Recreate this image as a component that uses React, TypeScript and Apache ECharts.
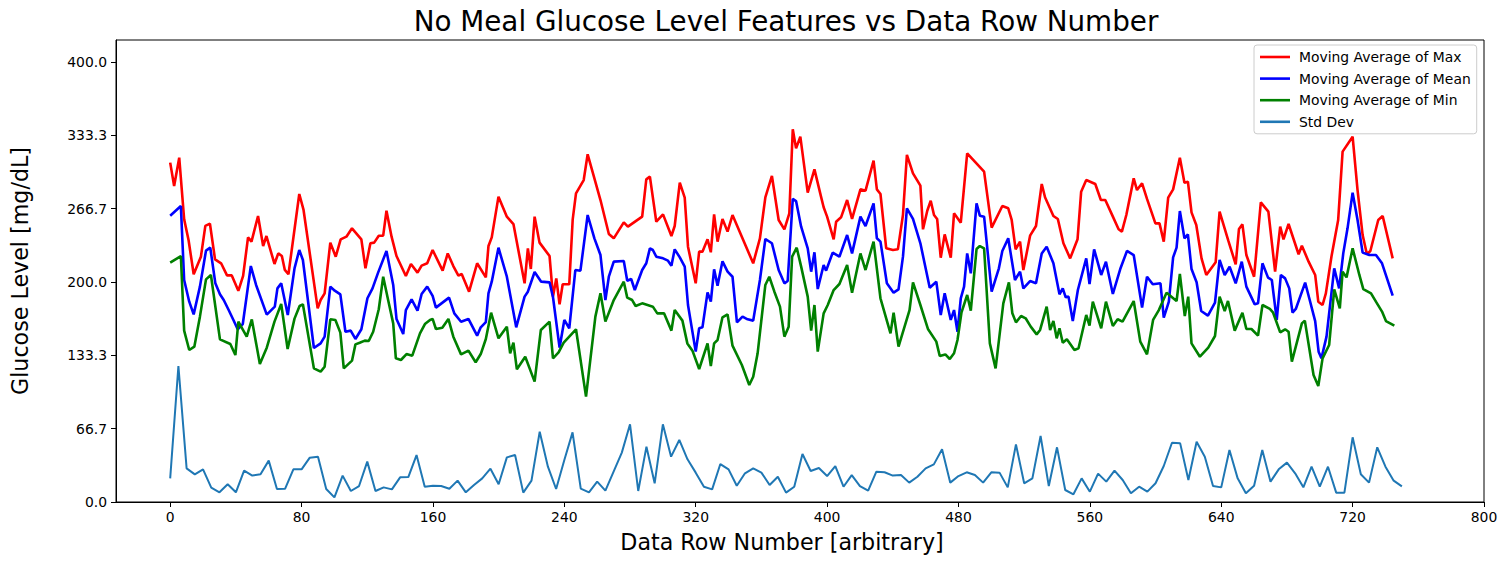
import React, { useEffect, useRef } from "react";
import * as echarts from "echarts";

const titleText = "No Meal Glucose Level Features vs Data Row Number";
const xAxisName = "Data Row Number [arbitrary]";
const yAxisName = "Glucose Level [mg/dL]";
const xTickValues = [0, 80, 160, 240, 320, 400, 480, 560, 640, 720, 800];
const yTickValues = [0, 66.667, 133.333, 200, 266.667, 333.333, 400];
const seriesNames = ["Moving Average of Max", "Moving Average of Mean", "Moving Average of Min", "Std Dev"];
const seriesColors = ["#ff0000", "#0000ff", "#008000", "#1f77b4"];

const maxPoints: [number, number][] = [
  [0, 308.5], [2.4, 287.3], [5.5, 313], [8.5, 257], [11.2, 238], [14.3, 207], [18.7, 223], [21.4, 251], [24.2, 253], [27.3, 220.6],
  [31, 217], [34.6, 206], [37.5, 206], [41.5, 192], [44.4, 205.5], [47.4, 240.6], [49.5, 236.7], [53.5, 260], [56.6, 232.7], [58.6, 241.8],
  [63.5, 216.4], [65.8, 226], [68, 223.6], [69.8, 211], [72, 207], [78.6, 280], [81.2, 265.5], [89.8, 176], [91.6, 183.6],
  [94.05, 189.7], [97.5, 235.8], [100.8, 223], [103.8, 238.8], [107.3, 241.2], [110.7, 248.8], [116.4, 238.8], [118.9, 212.4], [121.9, 235.2],
  [124.2, 235.8], [127, 242.1], [129.7, 242.1], [131.7, 264.8], [134.8, 241.2], [137.8, 223.6], [143.5, 205.5], [146.6, 216.4], [150.6, 208.5],
  [153.1, 214.85], [156.5, 217], [159.8, 229.1], [165.9, 210.3], [169, 226], [172.4, 214.5], [175.5, 205.8], [177.5, 207.3], [182, 191.2],
  [186.9, 217], [192.2, 204.2], [193.8, 232.7], [195.8, 240.6],
  [199.9, 277.6], [205, 259.4], [209, 252.7], [215.8, 198.8], [217.8, 230.6], [219.6, 211.8], [221.9, 259.4], [224.9, 235.8], [231, 223.6],
  [233.1, 186.7], [235.1, 203.3], [237.1, 179.7], [239, 197.9], [243, 197.9], [245.1, 257], [247.1, 280.6], [251.8, 292.7], [254.2, 316.1],
  [258.3, 294.2], [262, 274.5], [267.1, 243.6], [270.1, 239.7], [276.2, 254.2], [278.7, 250.3], [287.4, 259.4], [289.9, 293.3], [292.1, 295.8], [296, 254.8],
  [300.1, 261.5], [305.2, 241.8], [307.2, 250.9], [310.3, 290.3], [313.3, 276.7], [315.3, 232.1], [320, 198.8], [322.1, 227.6], [324.1, 227.6],
  [327.2, 238.8], [329.2, 227], [331.2, 261.5], [333.3, 236.7], [336.3, 257.3], [339.4, 245.8], [342.4, 260.9], [355, 217], [359.1, 239.7],
  [362.4, 277], [366.4, 296.4], [370.5, 256.4], [374, 247.9], [377, 262.4], [379.1, 338.8], [381.1, 321.5], [383.7, 332.1], [388.2, 281.2], [392.3, 302.4],
  [396.3, 277.6], [397.9, 267.9], [400, 259.4], [404, 238.8], [405.5, 254.8], [408.5, 258.8], [412.2, 274.5], [415.2, 257.3], [420.3, 284.2],
  [423.4, 283], [428.3, 310.3], [430.3, 284.2], [432.5, 280], [436, 230.6], [440.1, 229.1], [443.1, 229.7], [446.2, 260.9], [448.6, 315.5],
  [452.3, 298.8], [456.8, 287.6], [458.4, 247.9], [461, 264.8], [463.1, 273.9], [465.1, 260.9], [467, 257.3], [469.2, 222.1], [471.6, 243.3],
  [475.3, 222.1], [477.3, 262.4], [481.4, 253.9], [485.3, 317], [495.6, 300.3],
  [500.2, 249.4], [506.7, 269.1], [510.3, 267], [512.4, 256.4], [514.8, 229.7], [517.5, 236.7], [519.5, 210.9], [523.6, 242.1], [527.2, 250.9],
  [530.7, 289.1], [532.7, 277], [537.8, 260], [540.5, 257.3], [543.9, 235.2], [548, 221.5], [552.5, 238.8], [554.7, 282.1], [557.8, 292.7],
  [563.3, 289.1], [566.7, 274.5], [569.4, 274.5], [573.4, 261.5], [577.5, 247.9], [579.5, 245.8], [582.2, 260.9], [586.7, 294.2], [588.7, 283.6],
  [591.8, 289.7], [594.8, 275.5],
  [599.9, 253.3], [602.4, 253.3], [605, 236.7], [607.7, 276.7], [610.7, 284.2], [614.8, 313], [617.6, 290.3], [619.7, 291.2], [621.9, 263.3],
  [624.8, 251.8], [628, 221.5], [630.9, 206.4], [636.6, 217.9], [639, 264], [644.3, 237.6], [648.8, 216.1], [650.8, 248.2], [652.9, 252.4],
  [655.3, 224.5], [660, 204.8], [664.1, 272.4], [668.7, 264], [672.8, 209.4], [675.9, 250.3], [677.9, 238.8], [681, 252.7], [687.1, 225.2],
  [689.1, 233], [693.2, 218.5], [697.2, 206.4], [699.1, 182.1],
  [701.7, 179.1], [703.7, 189.7], [707.1, 223], [711.2, 256.4], [713.9, 318.5], [720, 332.1], [723, 283.6], [726.1, 242.7], [728.7, 225.2],
  [730.8, 228.2], [735.6, 256.4], [738.3, 260], [744.4, 221.5],
];

const meanPoints: [number, number][] = [
  [0, 260.3], [6.5, 269.1], [8.5, 201.8], [11.6, 182.1], [14.3, 170.6], [18.1, 195.8], [21.8, 228.5], [24.4, 231.2], [27.5, 198.8], [30.3, 188.8],
  [32.6, 183.6], [35.6, 174.5], [38.5, 165.5], [41.1, 157], [44.2, 161.8], [49.1, 214.5], [52.3, 197.3], [58.8, 170.3], [63.7, 177.6], [65.3, 194.2],
  [67.6, 198.8], [71.6, 170], [75.7, 212.4], [78.6, 229.1], [80.8, 220], [87.5, 140], [91.6, 144.2],
  [94.05, 150.3], [97.5, 195.8], [100.2, 192.1], [103.6, 188.8], [106.7, 154.8], [109.9, 155.8], [112.8, 148.2], [116.4, 157], [120.1, 185.2],
  [123.2, 194.2], [126.6, 208.5], [131.7, 228.2], [135.8, 197.3], [137.8, 166.4], [141.9, 152.7], [143.5, 174.5], [147, 184.2], [150.6, 173.9],
  [153.1, 189.1], [156.5, 195.8], [159.8, 187.3], [161.8, 176.7], [169.8, 185.8], [173, 171.5], [177.1, 163.9], [181.6, 166.4], [186.9, 151.2],
  [189.1, 158.8], [192.2, 163.6], [193.8, 189.7], [195.8, 200.3],
  [199.9, 231.2], [205, 204.8], [210.7, 158.8], [215.8, 186.7], [217.8, 191.2], [221.9, 209.1], [225.9, 200.3], [231, 199.7], [233.1, 186.1],
  [237.1, 140.3], [240, 165.5], [243, 157.9], [246.7, 210.9], [249.8, 210.3], [254.2, 260.9], [258.3, 239.7], [262, 224.5], [265, 183.6],
  [267.1, 204.8], [270.1, 218.5], [276.2, 219.1], [278.3, 201.2], [280.7, 202.7], [282.9, 192.7], [287.4, 210.9], [289.9, 217], [292.1, 230.6],
  [293.9, 229.1], [296, 223],
  [300.1, 221.5], [303.1, 219.4], [305.2, 214.85], [307.2, 229.7], [310.3, 222.4], [313.3, 214], [315.3, 179.1], [320, 136.7], [322.1, 157.9],
  [324.1, 158.8], [327.2, 190.6], [329.2, 182.1], [331.2, 211.5], [333.3, 196.7], [336.3, 218.8], [339.4, 209.4], [342.4, 204.8], [345.1, 163.3],
  [348.5, 168.5], [351.6, 166.1], [355, 164.9], [359.1, 201.8], [362.4, 239.1], [366.4, 235.2], [370.5, 210.9], [374, 198.8], [376, 200.9],
  [379.1, 275.5], [381.1, 273.6], [384.2, 250.3], [388.2, 230.6], [390.3, 209.4], [392.3, 227], [394.3, 193.6],
  [397.9, 215.45], [399.4, 210.3], [403.4, 226.7], [407.5, 223], [412.2, 242.7], [415.2, 226], [420.3, 259.4], [423.4, 250.9], [428.3, 271.5],
  [430.3, 239.7], [432.5, 236.7], [436.4, 198.8], [440.5, 190.3], [443.5, 193.3], [446.2, 223], [448.6, 267], [452.3, 257.3], [456.8, 235.2],
  [462.5, 194.8], [466.5, 200.3], [469.2, 170], [471.6, 189.7], [475.3, 165.5], [477.3, 174.5], [479.4, 154.8], [481.4, 185.2], [483.4, 195.8],
  [485.3, 226], [487.5, 207.9], [491, 271.5], [493, 260.3], [495.6, 259.4],
  [500.2, 191.2], [504.6, 212.4], [506.7, 228.2], [510.3, 239.7], [514.4, 201.8], [517.5, 209.4], [519.5, 194.2], [523.6, 200.9], [527.2, 198.8],
  [530.7, 226], [533.7, 232.1], [537.8, 217], [541.5, 188.8], [543.5, 194.2], [545.3, 186.1], [547, 186.7], [549.6, 164.5], [552.7, 192.7],
  [557.8, 221.5], [559.8, 198.2], [562.6, 229.7], [566.9, 206.4], [569.8, 218.5], [574, 189.1], [578.5, 211.8], [582.6, 228.2], [586.7, 224.5],
  [591.8, 176.7], [594.8, 204.8], [598.3, 197.9],
  [603, 198.8], [605, 167.6], [608.1, 182.1], [610.7, 222.4], [612.8, 231.2], [614.8, 264.5], [617.6, 239.7], [619.7, 243.3], [621.9, 211.8],
  [625, 199.7], [627.8, 173.6], [631.9, 169.4], [636.2, 181.2], [639, 220], [642.1, 206.4], [645.1, 213.9], [648.8, 198.8], [652.5, 218.5],
  [655.3, 195.8], [660.4, 179.7], [662.4, 180.6], [665.1, 217], [668.5, 204], [670.8, 201.8], [673.8, 165.5], [676.3, 206.4], [678.9, 203.3],
  [681.4, 194.2], [683.4, 172.1], [685.4, 175.5], [691.1, 199.4], [693.6, 185.2], [697.2, 164.5], [699.3, 136.7],
  [701, 130.6], [704.1, 150.3], [708.8, 212.4], [711.8, 194.2], [714.3, 226], [716.9, 248.8], [720, 281.2], [723, 256.4], [726.1, 226.7],
  [730.2, 224.5], [734.2, 224.5], [737.9, 217], [744.4, 187.6],
];

const minPoints: [number, number][] = [
  [0, 217.6], [6.5, 223.6], [8.5, 155.8], [11.6, 138.2], [14.7, 141.2], [18.1, 168.5], [21.8, 202.4], [24.8, 206.4], [30.3, 147.9], [36.6, 143.6],
  [39.7, 133.6], [41.5, 164], [46.6, 150.3], [49.7, 166], [54.6, 125.5], [58.8, 140.3], [63.5, 164], [67.6, 180], [71.5, 139.1], [75.7, 166.7],
  [78.8, 178.2], [80.8, 179.7], [87.5, 121.5], [91.6, 118.5],
  [94.05, 123], [97.5, 166.1], [100.6, 165.5], [103.6, 154], [105.7, 121.5], [110.7, 128.5], [112.8, 143.3], [115.4, 144.8], [118.5, 146.7],
  [120.9, 146.4], [123.6, 154.8], [127, 175.2], [129.7, 204.8], [132.7, 183.6], [135.8, 162.4], [137.4, 130.6], [140.5, 129.1], [143.9, 134.5],
  [147.4, 133], [152.1, 153.3], [155.1, 161.8], [158.2, 165.5], [159.8, 166.4], [161.8, 157.3], [165.7, 158.5], [169.4, 166.4], [172.4, 150.3],
  [177.1, 134.2], [181.6, 137.6], [186, 127], [189.1, 134.5], [192.2, 148.2], [195.4, 172.1],
  [199.9, 148.8], [205, 159.4], [207, 135.2], [209, 144.8], [211.1, 120.6], [216.2, 132.1], [221.9, 109.4], [225.7, 156.4], [231, 164],
  [233.1, 130.6], [236.5, 136], [239.6, 144.8], [247.1, 157], [253.2, 95.8], [258.9, 168.5], [262, 189.7], [265, 164], [270.1, 183.6],
  [276.2, 200.3], [278.3, 185.8], [281.3, 183.6], [283.4, 178.2], [287.4, 180.6], [293.9, 177.6], [296.6, 171.5],
  [300.7, 171.5], [305.2, 155.8], [307.2, 174.5], [311.9, 164.9], [314.9, 144.2], [318, 137.6], [322.1, 120.9], [327.2, 144.2], [329.2, 123.6],
  [331.2, 144.2], [333.3, 147.3], [336.3, 167.9], [339.4, 170.6], [342.4, 142.1], [348.1, 124.5], [352.6, 106.4], [355, 113.9], [357.7, 135.2],
  [362.4, 197.3], [364.8, 204.8], [367.9, 191.2], [371.3, 177.6], [374, 150.3], [376.6, 159.4], [378.7, 223], [381.5, 231.2], [384.2, 214],
  [388.2, 186.7], [390.3, 155.8], [392.3, 179.1], [394.3, 136.7],
  [397.9, 171.5], [400.4, 179.1], [404, 192.7], [407.5, 198.2], [412.2, 215.45], [415.2, 190.3], [420.3, 226], [423.4, 210.9], [428.3, 236.7],
  [432.5, 185.2], [438.6, 153.3], [440.5, 172.1], [443.5, 141.2], [450.2, 174.5], [452.3, 199.7], [456.8, 179.1], [461.4, 157.3], [466.5, 145.8],
  [468.6, 132.7], [472, 134.2], [474.7, 130], [477.3, 135.2], [479.4, 147.3], [481.8, 172.1], [485.3, 188.2], [487.5, 173.9], [491, 230],
  [493, 232.7], [495.6, 230.6],
  [499.1, 144.2], [502.6, 121.5], [507.3, 180.6], [510.7, 199.7], [512.8, 171.5], [515, 163.3], [518.1, 169.1], [520.9, 167], [524, 159.4],
  [527.6, 152.4], [529.7, 156.4], [533.7, 177.6], [535.8, 156.4], [537.8, 164.5], [539.8, 148.8], [541.5, 157.9], [543.5, 144.8], [546, 147.9],
  [550.6, 138.2], [553.1, 139.7], [557.8, 170], [559.8, 160.3], [561.8, 182.1], [566.9, 157.9], [569.8, 182.1], [574, 160], [576.9, 166.1],
  [579.9, 164], [586.7, 182.7], [590.7, 145.8], [594.8, 134.2], [598.5, 165.5],
  [602, 174.5], [606.7, 190.3], [612.8, 182.7], [614.8, 207.3], [617.8, 169.1], [619.9, 186.7], [621.9, 144.2], [627, 132.1], [632.1, 140.3],
  [636.2, 150.9], [639, 186.7], [642.1, 173.6], [644.1, 182.7], [648.2, 155.8], [652.9, 172.1], [655.3, 157.3], [658.4, 157.3], [662.4, 151.2],
  [665.1, 179.1], [669.6, 175.5], [671.6, 172.1], [675.9, 154.2], [678.9, 157], [681, 154.8], [683, 127.6], [689.1, 162.4], [690.9, 164.9],
  [696.2, 115.5], [699.1, 105.5],
  [701.7, 130.6], [705.7, 142.7], [708.8, 193.3], [712.2, 176.1], [713.9, 209.4], [716.3, 204.2], [720, 230.6], [724.1, 206.4], [726.5, 193.6],
  [731.2, 189.7], [734.2, 182.1], [737.9, 173.1], [740.3, 164.5], [745.4, 160.3],
];

const stdPoints: [number, number][] = [
  [0, 21.5], [5, 123.6], [10, 30.6], [15, 25.1], [20, 29.7], [25, 13.0], [30, 8.8], [35, 16.1], [40, 8.8], [45, 28.5],
  [50, 24], [55, 25.2], [60, 37.6], [65, 11.8], [70, 12.1], [75, 29.7], [80, 29.7], [85, 40.3], [90, 41.2], [95, 11.8],
  [100, 4.2], [105, 24], [110, 10], [115, 14.5], [120, 36.7], [125, 10], [130, 13.3], [135, 11.5], [140, 22.4], [145, 22.7],
  [150, 42.7], [155, 13.9], [160, 14.8], [165, 14.5], [170, 12.1], [175, 19.4], [180, 8.8], [185, 15.5], [190, 21.5], [195, 30.3],
  [200, 16.1], [205, 40.6], [210, 42.7], [215, 8.5], [220, 19.4], [225, 63.9], [230, 32.1], [235, 11.8], [240, 38.2], [245, 63.3],
  [250, 12.1], [255, 8.8], [260, 18.5], [265, 10.3], [270, 27.6], [275, 44.9], [280, 70.6], [285, 10], [290, 50.3], [295, 17],
  [300, 70.6], [305, 41.2], [310, 56.4], [315, 38.8], [320, 26.7], [325, 13.9], [330, 11.5], [335, 34.5], [340, 29.7], [345, 14.8],
  [350, 26.1], [355, 30.6], [360, 26.7], [365, 15.5], [370, 23], [375, 8.5], [380, 13.9], [385, 43.6], [390, 28.2], [395, 30.9],
  [400, 23.6], [405, 32.7], [410, 13.9], [415, 24.5], [420, 14.5], [425, 10.3], [430, 27.6], [435, 27], [440, 24], [445, 24.5],
  [450, 17.6], [455, 23], [460, 30.6], [465, 34.2], [470, 47.9], [475, 17.6], [480, 23.6], [485, 27], [490, 24.5], [495, 17.6],
  [500, 27], [505, 26.7], [510, 13.3], [515, 52.4], [520, 17], [525, 21.5], [530, 60], [535, 14.5], [540, 49.7], [545, 10.9],
  [550, 7], [555, 21.5], [560, 9.4], [565, 25.8], [570, 18.5], [575, 28.5], [580, 20], [585, 7.9], [590, 13.9], [595, 9.4],
  [600, 17], [605, 32.7], [610, 53.9], [615, 53.3], [620, 20], [625, 54.8], [630, 41.2], [635, 14.5], [640, 13.3], [645, 47.3],
  [650, 21.5], [655, 7.9], [660, 14.85], [665, 47.3], [670, 18.5], [675, 29.7], [680, 35.8], [685, 26.1], [690, 13.3], [695, 32.1],
  [700, 13.9], [705, 32.1], [710, 8.5], [715, 8.5], [720, 58.8], [725, 25.2], [730, 17.6], [735, 49.7], [740, 32.1], [745, 19.4],
  [750, 14.2],
];

const seriesData = [maxPoints, meanPoints, minPoints, stdPoints];
const seriesWidths = [2.6, 2.6, 2.6, 2];

const FONT = "DejaVu Sans";

export default function App() {
  const ref = useRef<HTMLDivElement>(null);
  useEffect(() => {
    document.body.style.margin = "0";
    const chart = echarts.init(ref.current as HTMLDivElement, null, { renderer: "svg" });
    chart.setOption({
      animation: false,
      backgroundColor: "#ffffff",
      title: {
        text: titleText,
        left: 786,
        textAlign: "center",
        top: 7,
        padding: 0,
        textStyle: { fontFamily: FONT, fontSize: 27.8, fontWeight: "normal", color: "#000" },
      },
      graphic: [
        {
          type: "text",
          x: 782,
          y: 542,
          silent: true,
          style: {
            text: xAxisName,
            fontFamily: FONT,
            fontSize: 22.2,
            fill: "#000",
            align: "center",
            verticalAlign: "middle",
          },
        },
      ],
      legend: {
        data: seriesNames.map((n, i) => ({ name: n, itemStyle: { color: seriesColors[i] } })),
        orient: "vertical",
        left: 1254,
        top: 45,
        icon: "rect",
        itemWidth: 30,
        itemHeight: 2.6,
        itemGap: 7.6,
        padding: [5, 6, 5, 6],
        borderColor: "#cccccc",
        borderWidth: 1,
        borderRadius: 3,
        backgroundColor: "rgba(255,255,255,0.8)",
        textStyle: { fontFamily: FONT, fontSize: 13.9, color: "#000", lineHeight: 14, padding: [0, 0, 0, 4] },
      },
      grid: {
        left: 116,
        right: 22,
        top: 40,
        bottom: 62,
        show: true,
        borderColor: "#000",
        borderWidth: 1,
        backgroundColor: "transparent",
        containLabel: false,
        outerBoundsMode: "none",
      },
      xAxis: {
        type: "value",
        min: -33,
        max: 800,
        axisLine: { show: true, onZero: false, lineStyle: { color: "#000", width: 1 } },
        axisTick: { show: true, length: 5, customValues: xTickValues, lineStyle: { color: "#000", width: 1 } },
        axisLabel: {
          customValues: xTickValues,
          margin: 8,
          fontFamily: FONT,
          fontSize: 13.9,
          color: "#000",
          formatter: (v: number) => String(v),
        },
        splitLine: { show: false },
      },
      yAxis: {
        type: "value",
        min: 0,
        max: 420,
        name: yAxisName,
        nameLocation: "middle",
        nameRotate: 90,
        nameGap: 85,
        nameTextStyle: { fontFamily: FONT, fontSize: 22.2, color: "#000" },
        axisLine: { show: true, onZero: false, lineStyle: { color: "#000", width: 1 } },
        axisTick: { show: true, length: 5, customValues: yTickValues, lineStyle: { color: "#000", width: 1 } },
        axisLabel: {
          customValues: yTickValues,
          margin: 9,
          fontFamily: FONT,
          fontSize: 13.9,
          color: "#000",
          formatter: (v: number) => v.toFixed(1),
        },
        splitLine: { show: false },
      },
      series: seriesNames.map((n, i) => ({
        name: n,
        type: "line",
        data: seriesData[i],
        color: seriesColors[i],
        showSymbol: false,
        symbol: "none",
        lineStyle: { color: seriesColors[i], width: seriesWidths[i] },
        itemStyle: { color: seriesColors[i] },
        emphasis: { disabled: true },
      })),
    });
    return () => chart.dispose();
  }, []);
  return <div ref={ref} style={{ width: 1506, height: 564 }} />;
}
